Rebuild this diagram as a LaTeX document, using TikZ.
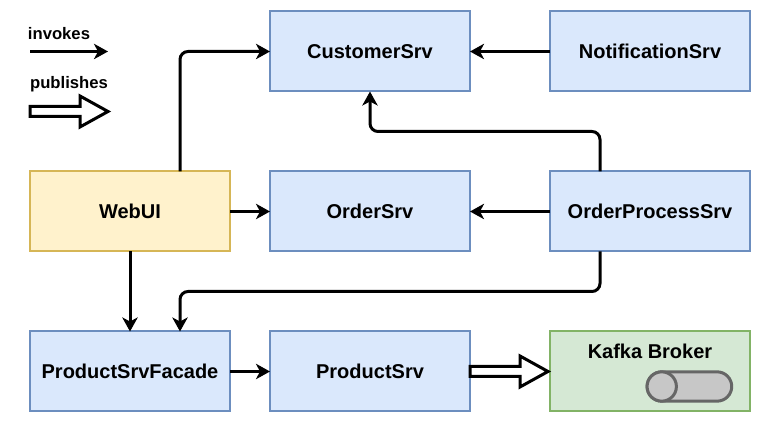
\documentclass[tikz,border=0pt]{standalone}
\usepackage{fontspec}
\setmainfont{Liberation Sans}
\usepackage{xcolor}
\usetikzlibrary{arrows.meta,shapes.misc}
\definecolor{SrvFill}{HTML}{DAE8FC}
\definecolor{SrvLine}{HTML}{6C8EBF}
\definecolor{UiFill}{HTML}{FFF2CC}
\definecolor{UiLine}{HTML}{D6B656}
\definecolor{BrokerFill}{HTML}{D5E8D4}
\definecolor{BrokerLine}{HTML}{82B366}
\newcommand{\publish}[2]{\draw [publishes] (#1) ++(0,-5) -- ++(50,0) -- ++(0,-10.5) -- (#2)
    -- ++(-28,15.5) -- ++(0,-10.5) -- ++(-50,0) -- cycle;}

\begin{document}
\begin{tikzpicture} [x=0.75pt,y=-0.75pt,
       every node/.style={font=\fontsize{15}{18}\selectfont\bfseries},
       component/.style 2 args = {rectangle, minimum width=150pt, minimum height=60pt,
                                  outer sep=0pt, line width=1.5pt, draw=#2, fill=#1},
       srv/.style = {component={SrvFill}{SrvLine}},
       legendtext/.style = {font=\fontsize{12.5}{15}\selectfont\bfseries},
       drum/.style = {minimum height=22pt, inner sep=0pt, outer sep=0pt, line width=2.25pt,
                      draw=black!60, fill=black!22},
       invokes/.style = {line width=2.25pt, rounded corners=6pt,
                         -{Stealth[length=10.5pt,width=11.5pt,inset=3pt]}},
       publishes/.style = {line width=2.25pt, draw=black, fill=white, miter limit=10}]
    \useasboundingbox (0,-0.5) rectangle (761,422.5);

    %% Add the components
    \node [srv] (customer) at (370,51) {CustomerSrv};
    \node [srv] (notification) at (650,51) {NotificationSrv};
    \node [component={UiFill}{UiLine}] (webui) at (130,211) {WebUI};
    \node [srv] (order) at (370,211) {OrderSrv};
    \node [srv] (orderproc) at (650,211) {OrderProcessSrv};
    \node [srv] (facade) at (130,371) {ProductSrvFacade};
    \node [srv] (product) at (370,371) {ProductSrv};
    \node [component={BrokerFill}{BrokerLine}] (kafka) at (650,371) {};
    \node (kafkalabel) at (650,351) {Kafka Broker};
    \node [drum, rounded rectangle, minimum width=63.5pt] (topic) at (689.4,386) {};
    \node [drum, circle, minimum size=22pt] (topicend) at ([xshift=11pt]topic.west) {};

    %% Add the legend
    \node [legendtext] (invlabel) at (59,33) {invokes};
    \node [legendtext] (publabel) at (69,84) {publishes};
    \coordinate (invstart) at (30,51);
    \coordinate (invend) at (108,51);
    \coordinate (pubstart) at (30,111);
    \coordinate (pubend) at (108,111);
    \draw [invokes] (invstart) -- (invend);
    \publish{pubstart}{pubend}

    %% Add the calls between components
    \draw [invokes] ([xshift=37.5pt]webui.north) |- (customer.west);
    \draw [invokes] (notification) -- (customer);
    \draw [invokes] ([xshift=-37.5pt]orderproc.north) -- ++(0,-40) -| (customer.south);
    \draw [invokes] (webui) -- (order);
    \draw [invokes] (orderproc) -- (order);
    \draw [invokes] (webui) -- (facade);
    \draw [invokes] ([xshift=-37.5pt]orderproc.south) -- ++(0,40) -| ([xshift=37.5pt]facade.north);
    \draw [invokes] (facade) -- (product);

    %% Publishing goes through the hollow arrow
    \coordinate (pubtip) at ([xshift=-1.5pt]kafka.west);
    \publish{product.east}{pubtip}
\end{tikzpicture}
\end{document}
